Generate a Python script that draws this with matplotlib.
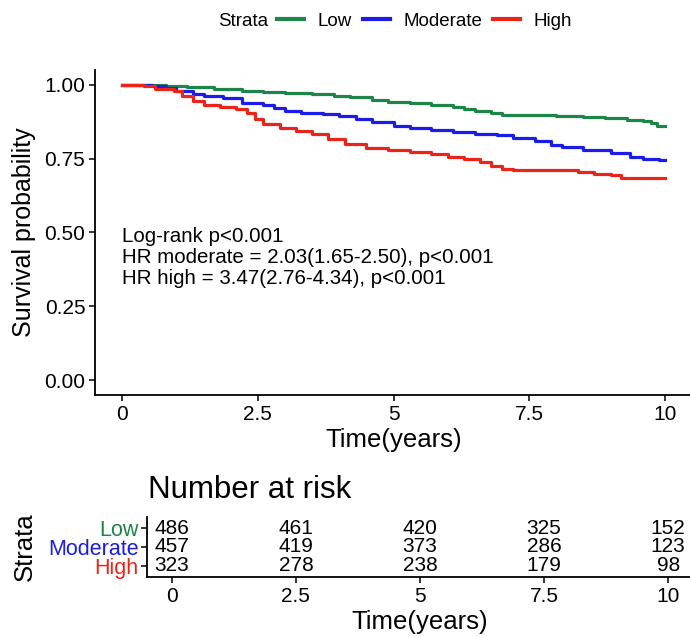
import matplotlib
matplotlib.use("Agg")
import matplotlib.pyplot as plt
from matplotlib.lines import Line2D

plt.rcParams['font.family'] = ['Liberation Sans', 'DejaVu Sans']

# Kaplan-Meier step points (time in years, survival)
low_t = [0, 0.8, 1.2, 1.7, 2.2, 2.6, 3.0, 3.5, 3.9, 4.2, 4.6, 4.9, 5.3, 5.7, 6.1,
         6.3, 6.5, 6.8, 7.0, 7.5, 8.0, 8.5, 8.9, 9.3, 9.6, 9.75, 9.85, 10.0]
low_s = [1.0, 0.997, 0.992, 0.986, 0.979, 0.975, 0.972, 0.969, 0.963, 0.957, 0.95,
         0.943, 0.937, 0.931, 0.925, 0.918, 0.911, 0.903, 0.899, 0.898, 0.894, 0.89,
         0.886, 0.881, 0.877, 0.869, 0.861, 0.861]

mod_t = [0, 0.55, 0.8, 1.0, 1.3, 1.5, 1.85, 2.2, 2.6, 2.8, 3.0, 3.3, 3.7, 4.0, 4.3,
         4.6, 5.0, 5.3, 5.7, 6.1, 6.5, 6.9, 7.2, 7.6, 7.9, 8.1, 8.5, 9.0, 9.35, 9.6,
         9.9, 10.0]
mod_s = [1.0, 0.995, 0.99, 0.98, 0.97, 0.963, 0.955, 0.94, 0.93, 0.92, 0.911, 0.903,
         0.9, 0.895, 0.885, 0.875, 0.862, 0.855, 0.848, 0.84, 0.834, 0.829, 0.82, 0.81,
         0.797, 0.789, 0.778, 0.768, 0.755, 0.75, 0.746, 0.745]

high_t = [0, 0.4, 0.6, 0.95, 1.1, 1.3, 1.5, 1.8, 2.1, 2.3, 2.45, 2.6, 2.9, 3.2, 3.5,
          3.8, 4.1, 4.5, 4.9, 5.3, 5.7, 6.0, 6.3, 6.6, 6.8, 7.0, 7.2, 8.0, 8.4, 8.7,
          9.0, 9.2, 10.0]
high_s = [1.0, 0.995, 0.987, 0.98, 0.962, 0.945, 0.932, 0.925, 0.918, 0.905, 0.885,
          0.866, 0.855, 0.845, 0.833, 0.815, 0.8, 0.787, 0.778, 0.772, 0.765, 0.757,
          0.748, 0.737, 0.725, 0.714, 0.711, 0.71, 0.705, 0.698, 0.694, 0.684, 0.683]

strata = ["Low", "Moderate", "High"]
colors = ["#1E8549", "#1C1CE8", "#EA2418"]

risk_times = [0, 2.5, 5, 7.5, 10]
risk_low = [486, 461, 420, 325, 152]
risk_mod = [457, 419, 373, 286, 123]
risk_high = [323, 278, 238, 179, 98]

annot = ["Log-rank p<0.001",
         "HR moderate = 2.03(1.65-2.50), p<0.001",
         "HR high = 3.47(2.76-4.34), p<0.001"]

W, H = 690, 637
fig = plt.figure(figsize=(W / 100, H / 100), dpi=100)

# main survival plot
ax = fig.add_axes([95 / W, 1 - 395 / H, 597 / W, 325 / H])
curves = [(low_t, low_s), (mod_t, mod_s), (high_t, high_s)]
for (t, s), c in zip(curves, colors):
    ax.step(t, s, where='post', color=c, lw=2.3)
ax.set_xlim(-0.5, 10.5)
ax.set_ylim(-0.05, 1.05)
ax.set_xticks([0, 2.5, 5, 7.5, 10])
ax.set_xticklabels(["0", "2.5", "5", "7.5", "10"])
ax.set_yticks([0, 0.25, 0.5, 0.75, 1.0])
ax.set_yticklabels(["0.00", "0.25", "0.50", "0.75", "1.00"])
ax.tick_params(labelsize=15, length=4, width=1.1, colors='black', pad=3)
for sp in ['top', 'right']:
    ax.spines[sp].set_visible(False)
for sp in ['left', 'bottom']:
    ax.spines[sp].set_linewidth(1.3)
ax.set_xlabel("Time(years)", fontsize=18.5, labelpad=3)
ax.set_ylabel("Survival probability", fontsize=18, labelpad=6)

for i, line in enumerate(annot):
    ax.text(0, 0.485 - i * 0.0695, line, fontsize=14.8, va='center', ha='left')

# legend at top
fig.text(268 / W, 1 - 21 / H, "Strata", fontsize=13.5, ha='right', va='center')
handles = [Line2D([], [], color=c, lw=3) for c in colors]
fig.legend(handles, strata, loc='center left', bbox_to_anchor=(277 / W, 1 - 21 / H),
           ncol=3, frameon=False, fontsize=13.5, handlelength=1.45,
           handletextpad=0.7, columnspacing=0.6, borderpad=0, borderaxespad=0)

# risk table
tab = fig.add_axes([147 / W, 1 - 577 / H, 546 / W, 60 / H])
rows = [risk_low, risk_mod, risk_high]
ypos = [3, 2, 1]
for vals, y in zip(rows, ypos):
    for t, v in zip(risk_times, vals):
        tab.text(t, y, str(v), ha='center', va='center', fontsize=15)
tab.set_xlim(-0.5, 10.5)
tab.set_ylim(0.42, 3.58)
tab.set_xticks([0, 2.5, 5, 7.5, 10])
tab.set_xticklabels(["0", "2.5", "5", "7.5", "10"])
tab.set_yticks(ypos)
tab.set_yticklabels(strata)
for lbl, c in zip(tab.get_yticklabels(), colors):
    lbl.set_color(c)
tab.tick_params(axis='x', labelsize=15, length=4, width=1.1, pad=3)
tab.tick_params(axis='y', labelsize=15.5, length=4, width=1.1, pad=2)
for sp in ['top', 'right']:
    tab.spines[sp].set_visible(False)
for sp in ['left', 'bottom']:
    tab.spines[sp].set_linewidth(1.3)
tab.set_xlabel("Time(years)", fontsize=18.5, labelpad=3)
tab.set_ylabel("Strata", fontsize=18.5, labelpad=8)
fig.text(148 / W, 1 - 498 / H, "Number at risk", fontsize=22.5, ha='left', va='baseline')

fig.savefig("out.png", dpi=100)
